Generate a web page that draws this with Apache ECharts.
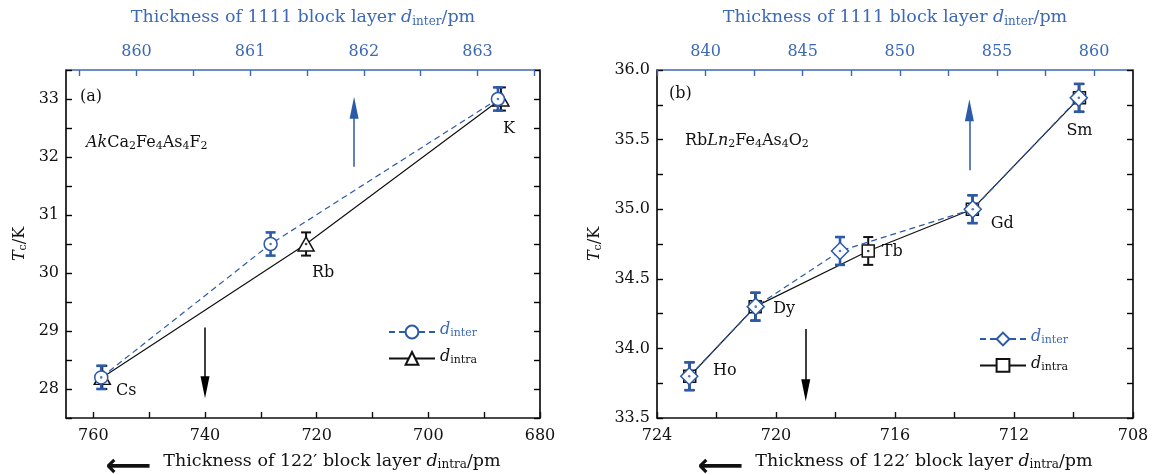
<!DOCTYPE html>
<html>
<head>
<meta charset="utf-8">
<script src="https://cdn.jsdelivr.net/npm/echarts@6/dist/echarts.min.js"></script>
<style>
  html, body { margin: 0; padding: 0; background: #fff; }
  #chart { width: 1159px; height: 475px; }
</style>
</head>
<body>
<div id="chart"></div>
<script>
// panel (a): AkCa2Fe4As4F2
const aNames = ['Cs', 'Rb', 'K'];
const aIntra = [758.4, 721.9, 687.0];     // d_intra / pm (bottom axis)
const aInter = [859.69, 861.18, 863.18];  // d_inter / pm (top axis)
const aTc = [28.2, 30.5, 33.0];
const aErr = [0.2, 0.2, 0.2];
const aIntraTicks = [760, 750, 740, 730, 720, 710, 700, 690, 680];
const aIntraLabels = [760, 740, 720, 700, 680];
const aInterTicks = [859.5, 860, 860.5, 861, 861.5, 862, 862.5, 863, 863.5];
const aInterLabels = [860, 861, 862, 863];
const aTcTicks = [27.5, 28, 28.5, 29, 29.5, 30, 30.5, 31, 31.5, 32, 32.5, 33, 33.5];
const aTcLabels = [28, 29, 30, 31, 32, 33];

// panel (b): RbLn2Fe4As4O2
const bNames = ['Ho', 'Dy', 'Tb', 'Gd', 'Sm'];
const bIntra = [722.9, 720.7, 716.9, 713.4, 709.8];
const bInter = [839.16, 842.58, 846.92, 853.75, 859.21];
const bTc = [33.8, 34.3, 34.7, 35.0, 35.8];
const bErr = [0.1, 0.1, 0.1, 0.1, 0.1];
const bIntraTicks = [724, 722, 720, 718, 716, 714, 712, 710, 708];
const bIntraLabels = [724, 720, 716, 712, 708];
const bInterTicks = [837.5, 840, 842.5, 845, 847.5, 850, 852.5, 855, 857.5, 860];
const bInterLabels = [840, 845, 850, 855, 860];
const bTcTicks = [33.5, 33.75, 34, 34.25, 34.5, 34.75, 35, 35.25, 35.5, 35.75, 36];
const bTcLabels = [33.5, 34, 34.5, 35, 35.5, 36];

// label placement around points (px)
const aLabelOffsets = [[24, 13], [17, 29], [8, 30]];
const bLabelOffsets = [[35, -5], [29, 2], [24, 1], [30, 15], [0, 33]];

const BLUE = '#2b5aa8';
const BLUE_TXT = '#3c69b6';
const SERIF = '"DejaVu Serif", serif';
const FS = 16;

function rich(color, size) {
  size = size || FS;
  const sub = Math.round(size * 0.68);
  return {
    n: { fontFamily: SERIF, fontSize: size, color: color, lineHeight: size + 4, verticalAlign: 'top' },
    i: { fontFamily: SERIF, fontStyle: 'italic', fontSize: size, color: color, lineHeight: size + 4, verticalAlign: 'top' },
    s: { fontFamily: SERIF, fontSize: sub, color: color, lineHeight: sub + 1, padding: [Math.round(size * 0.38), 0, 0, 0], verticalAlign: 'top' },
    ar: { fontFamily: '"DejaVu Sans"', fontWeight: 'bold', fontSize: 32, color: color, lineHeight: size + 4, verticalAlign: 'top', padding: [0, 12, 0, 0] }
  };
}

function graphicRich() {
  return {
    n: { font: FS + 'px "DejaVu Serif"', fill: '#111', lineHeight: 20, verticalAlign: 'top' },
    i: { font: 'italic ' + FS + 'px "DejaVu Serif"', fill: '#111', lineHeight: 20, verticalAlign: 'top' },
    s: { font: '11px "DejaVu Serif"', fill: '#111', lineHeight: 12, padding: [6, 0, 0, 0], verticalAlign: 'top' }
  };
}

const chart = echarts.init(document.getElementById('chart'), null, { renderer: 'canvas' });

function xAxisCfg(grid, pos, min, max, inverse, ticks, labels, color, name) {
  return {
    type: 'value', gridIndex: grid, position: pos, min: min, max: max, inverse: inverse,
    axisLine: { onZero: false, lineStyle: { color: color, width: 1.6 } },
    axisTick: { inside: true, length: 6, customValues: ticks, lineStyle: { color: color, width: 1.4 } },
    axisLabel: { customValues: labels, margin: 10, color: color, fontFamily: SERIF, fontSize: FS },
    splitLine: { show: false },
    name: name, nameLocation: 'middle', nameGap: pos === 'top' ? 40 : 34,
    nameTextStyle: { rich: rich(color, 17.5) }
  };
}

function yAxisCfg(grid, pos, min, max, ticks, labels, fmt, name, gap) {
  return {
    type: 'value', gridIndex: grid, position: pos, min: min, max: max,
    axisLine: { onZero: false, lineStyle: { color: '#000', width: 1.6 } },
    axisTick: { inside: true, length: 6, customValues: ticks, lineStyle: { color: '#000', width: 1.4 } },
    axisLabel: { show: pos === 'left', customValues: labels, margin: 7, color: '#111', fontFamily: SERIF, fontSize: FS, formatter: fmt },
    splitLine: { show: false },
    name: pos === 'left' ? name : '', nameLocation: 'middle', nameGap: gap, nameRotate: 90,
    nameTextStyle: { rich: rich('#111') }
  };
}

function errSeries(xi, yi, xs, ys, es, color, w, z) {
  return {
    type: 'custom', xAxisIndex: xi, yAxisIndex: yi, z: z, silent: true,
    data: xs.map((x, i) => [x, ys[i], es[i]]),
    encode: { x: 0, y: 1 },
    renderItem: function (params, api) {
      const x = api.value(0), y = api.value(1), e = api.value(2);
      const hi = api.coord([x, y + e]);
      const lo = api.coord([x, y - e]);
      const c = 5;
      const st = { stroke: color, lineWidth: w };
      return {
        type: 'group',
        children: [
          { type: 'line', shape: { x1: hi[0], y1: hi[1], x2: lo[0], y2: lo[1] }, style: st },
          { type: 'line', shape: { x1: hi[0] - c, y1: hi[1], x2: hi[0] + c, y2: hi[1] }, style: st },
          { type: 'line', shape: { x1: lo[0] - c, y1: lo[1], x2: lo[0] + c, y2: lo[1] }, style: st }
        ]
      };
    }
  };
}

function dotSeries(xi, yi, xs, ys, color, z) {
  return {
    type: 'scatter', xAxisIndex: xi, yAxisIndex: yi, z: z, silent: true,
    symbol: 'circle', symbolSize: 2.6, itemStyle: { color: color },
    data: xs.map((x, i) => [x, ys[i]])
  };
}

function lineSeries(name, xi, yi, xs, ys, color, dashed, symbol, size, z, labels, offsets, arrows) {
  const s = {
    name: name, type: 'line', xAxisIndex: xi, yAxisIndex: yi, z: z,
    symbol: symbol, symbolSize: size, showSymbol: true,
    lineStyle: { color: color, width: 1.2, type: dashed ? [6, 4] : 'solid' },
    itemStyle: { color: '#fff', borderColor: color, borderWidth: 1.5 },
    emphasis: { disabled: true },
    data: xs.map((x, i) => {
      const d = { value: [x, ys[i]] };
      if (labels) {
        d.label = {
          show: true, formatter: labels[i], position: 'inside', offset: offsets[i],
          color: '#111', fontFamily: SERIF, fontSize: FS
        };
      }
      return d;
    })
  };
  if (arrows) {
    s.markLine = {
      silent: true, animation: false, symbol: ['none', 'triangle'], symbolSize: [9, 22],
      label: { show: false }, emphasis: { disabled: true },
      data: arrows.map(a => [
        { coord: [a.x, a.y0], lineStyle: { color: a.color, width: 1.5, type: 'solid' }, itemStyle: { color: a.color } },
        { coord: [a.x, a.y1] }
      ])
    };
  }
  return s;
}

function legendCfg(left, top, names) {
  const blue = rich(BLUE_TXT);
  return {
    left: left, top: top, orient: 'vertical', itemWidth: 46, itemHeight: 16, itemGap: 9,
    selectedMode: false, data: names,
    formatter: n => n.indexOf('inter') >= 0 ? '{bi|d}{bs|inter}' : '{i|d}{s|intra}',
    textStyle: { rich: Object.assign(rich('#111'), { bi: blue.i, bs: blue.s }) }
  };
}

const option = {
  animation: false,
  backgroundColor: '#fff',
  grid: [
    { left: 66, top: 70, width: 474, height: 348, containLabel: false, outerBoundsMode: 'none' },
    { left: 657, top: 70, width: 476, height: 348, containLabel: false, outerBoundsMode: 'none' }
  ],
  xAxis: [
    xAxisCfg(0, 'bottom', 680, 764.9, true, aIntraTicks, aIntraLabels, '#111',
      '{ar|⟵}{n|Thickness of 122′ block layer }{i|d}{s|intra}{n|/pm}'),
    xAxisCfg(0, 'top', 859.38, 863.55, false, aInterTicks, aInterLabels, BLUE_TXT,
      '{n|Thickness of 1111 block layer }{i|d}{s|inter}{n|/pm}'),
    xAxisCfg(1, 'bottom', 708, 724, true, bIntraTicks, bIntraLabels, '#111',
      '{ar|⟵}{n|Thickness of 122′ block layer }{i|d}{s|intra}{n|/pm}'),
    xAxisCfg(1, 'top', 837.5, 862, false, bInterTicks, bInterLabels, BLUE_TXT,
      '{n|Thickness of 1111 block layer }{i|d}{s|inter}{n|/pm}')
  ],
  yAxis: [
    yAxisCfg(0, 'left', 27.5, 33.5, aTcTicks, aTcLabels, v => String(v), '{i|T}{s|c}{n|/K}', 34),
    yAxisCfg(0, 'right', 27.5, 33.5, aTcTicks, aTcLabels, null, '', 0),
    yAxisCfg(1, 'left', 33.5, 36, bTcTicks, bTcLabels, v => v.toFixed(1), '{i|T}{s|c}{n|/K}', 50),
    yAxisCfg(1, 'right', 33.5, 36, bTcTicks, bTcLabels, null, '', 0)
  ],
  legend: [
    legendCfg(383, 317, ['a_inter', 'a_intra']),
    legendCfg(974, 324, ['b_inter', 'b_intra'])
  ],
  graphic: [
    { type: 'text', x: 80, y: 97, style: { text: '(a)', font: FS + 'px "DejaVu Serif"', fill: '#111', verticalAlign: 'middle' } },
    {
      type: 'text', x: 86, y: 145,
      style: { text: '{i|Ak}{n|Ca}{s|2}{n|Fe}{s|4}{n|As}{s|4}{n|F}{s|2}', verticalAlign: 'middle', rich: graphicRich() }
    },
    { type: 'text', x: 669, y: 94, style: { text: '(b)', font: FS + 'px "DejaVu Serif"', fill: '#111', verticalAlign: 'middle' } },
    {
      type: 'text', x: 685, y: 143,
      style: { text: '{n|Rb}{i|Ln}{s|2}{n|Fe}{s|4}{n|As}{s|4}{n|O}{s|2}', verticalAlign: 'middle', rich: graphicRich() }
    }
  ],
  series: [
    // panel (a)
    errSeries(0, 0, aIntra, aTc, aErr, '#111', 2, 1),
    lineSeries('a_intra', 0, 0, aIntra, aTc, '#111', false, 'triangle', [16, 14], 2, aNames, aLabelOffsets, [
      { x: 713.3, y0: 31.83, y1: 32.85, color: BLUE },
      { x: 740, y0: 29.06, y1: 28.03, color: '#000' }
    ]),
    dotSeries(0, 0, aIntra, aTc, '#111', 3),
    errSeries(1, 0, aInter, aTc, aErr, BLUE, 2.6, 4),
    lineSeries('a_inter', 1, 0, aInter, aTc, BLUE, true, 'circle', 13, 5),
    dotSeries(1, 0, aInter, aTc, BLUE, 6),
    // panel (b)
    errSeries(2, 2, bIntra, bTc, bErr, '#111', 2, 1),
    lineSeries('b_intra', 2, 2, bIntra, bTc, '#111', false, 'rect', 12, 2, bNames, bLabelOffsets, [
      { x: 713.5, y0: 35.28, y1: 35.71, color: BLUE },
      { x: 719, y0: 34.14, y1: 33.70, color: '#000' }
    ]),
    dotSeries(2, 2, bIntra, bTc, '#111', 3),
    errSeries(3, 2, bInter, bTc, bErr, BLUE, 2.6, 4),
    lineSeries('b_inter', 3, 2, bInter, bTc, BLUE, true, 'diamond', 17, 5),
    dotSeries(3, 2, bInter, bTc, BLUE, 6)
  ]
};

chart.setOption(option);
</script>
</body>
</html>
